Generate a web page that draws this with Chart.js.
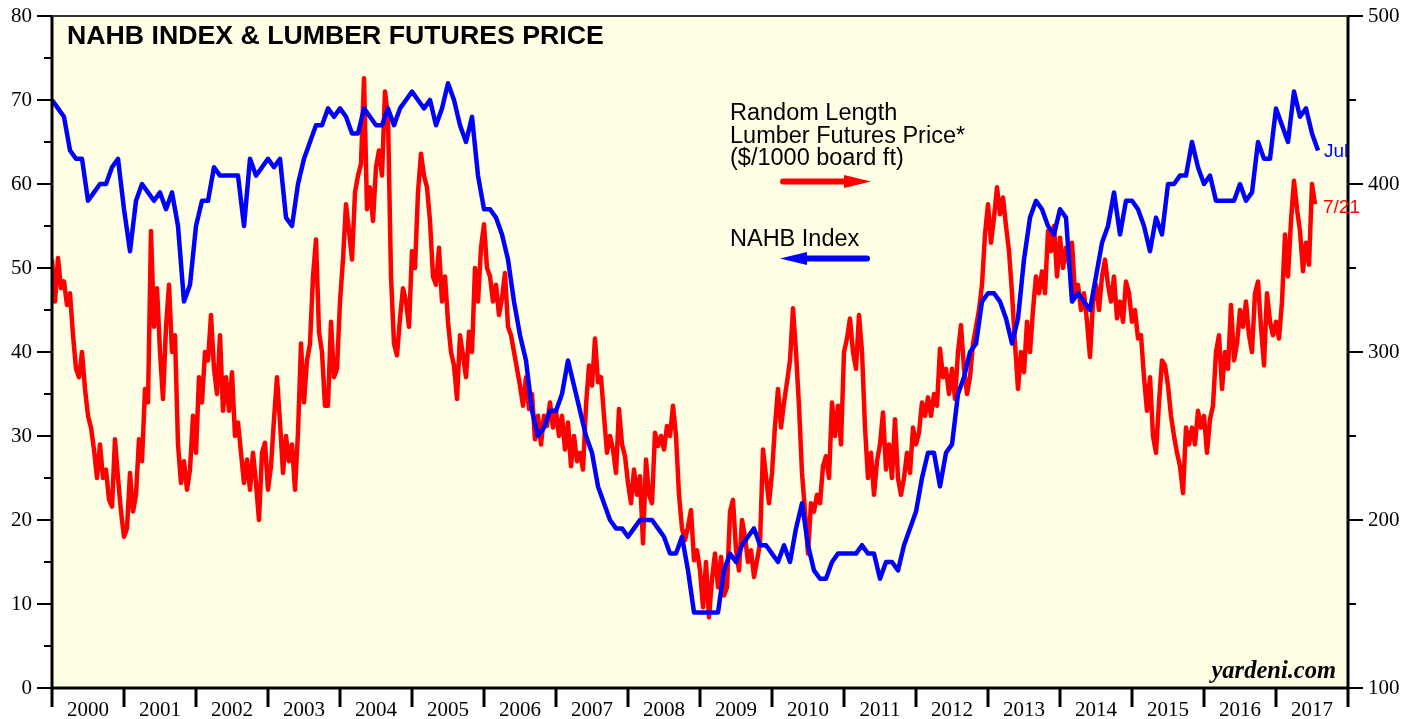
<!DOCTYPE html>
<html><head><meta charset="utf-8">
<script src="https://cdn.jsdelivr.net/npm/chart.js@4.4.1/dist/chart.umd.min.js"></script>
<style>html,body{margin:0;padding:0;background:#fff;}#wrap{width:1420px;height:719px;position:relative;}</style>
</head><body><div id="wrap"><canvas id="c" width="1420" height="719"></canvas></div>
<script>
// ---- data ----
const startYear = 2000;
const endYear = 2018;
const yearLabels = ['2000','2001','2002','2003','2004','2005','2006','2007','2008','2009','2010','2011','2012','2013','2014','2015','2016','2017'];
const leftTicks = [0,10,20,30,40,50,60,70,80];
const rightTicks = [100,200,300,400,500];

// NAHB Housing Market Index, monthly (month-end points), Dec 1999 .. Jul 2017
const nahbIndex = [70,
 69,68,64,63,63,58,59,60,60,62,63,57,
 52,58,60,59,58,59,57,59,55,46,48,55,
 58,58,62,61,61,61,61,55,63,61,62,63,
 62,63,56,55,60,63,65,67,67,69,68,69,
 68,66,66,69,68,67,67,69,67,69,70,71,
 70,69,70,67,69,72,70,67,65,68,61,57,
 57,56,54,51,46,42,39,33,30,31,33,33,
 35,39,36,33,30,28,24,22,20,19,19,18,
 19,20,20,20,19,18,16,16,18,14,9,9,
 9,9,9,14,16,15,17,18,19,17,17,16,
 15,17,15,19,22,17,14,13,13,15,16,16,
 16,16,17,16,16,13,15,15,14,17,19,21,
 25,28,28,24,28,29,35,37,40,41,46,47,
 47,46,44,41,44,51,56,58,57,55,54,57,
 56,46,47,46,45,49,53,55,59,54,58,58,
 57,55,52,56,54,60,60,61,61,65,62,60,
 61,58,58,58,58,60,58,59,65,63,63,69,
 67,65,71,68,69,66,64];

// Random Length lumber futures price, $/1000 board ft, semi-monthly from Jan 2000 to 7/21/2017
const lumberPrice = [
 355,330,356,338,342,328,335,310,290,285,300,278,262,255,242,225,245,225,230,212,208,248,225,205,
 190,195,228,205,215,248,235,278,270,372,315,338,300,272,315,340,300,310,245,222,235,218,230,262,
 240,285,270,300,295,322,290,275,310,265,285,265,288,250,258,240,222,236,218,240,222,200,240,246,
 218,232,260,285,258,228,250,235,245,218,252,305,270,295,305,345,367,312,300,268,268,318,285,290,
 330,355,388,372,355,395,405,412,463,385,398,378,410,420,405,455,440,345,305,298,320,338,330,315,
 360,350,395,418,405,398,378,345,340,362,330,345,318,300,292,272,310,298,285,312,300,350,330,362,
 376,350,345,330,340,322,332,347,315,310,300,290,280,268,285,266,275,248,262,245,262,256,270,255,
 265,250,262,242,258,232,250,235,240,230,268,292,280,308,282,285,262,240,250,242,228,266,245,238,
 222,210,230,215,226,186,236,215,210,252,244,250,242,256,250,268,250,215,195,188,196,206,176,182,
 170,148,175,142,165,180,160,178,155,160,205,212,182,170,200,190,175,182,166,176,186,242,226,210,
 228,256,278,255,270,282,295,326,300,268,228,205,180,210,205,215,210,232,238,225,270,250,268,245,
 300,308,320,300,290,322,300,255,225,240,215,235,245,264,230,245,225,260,225,215,225,240,228,255,
 245,252,270,262,273,262,275,268,302,285,290,275,290,272,300,316,290,275,285,305,315,325,340,370,
 388,365,380,398,382,392,375,360,335,305,278,300,288,318,300,325,345,335,348,335,372,360,375,345,
 368,350,362,352,365,335,340,325,335,318,297,330,340,325,345,355,340,330,345,320,330,318,342,335,
 318,325,308,310,285,265,285,250,240,270,295,292,280,262,250,240,232,216,255,245,255,245,265,255,
 262,240,260,268,300,310,278,300,290,328,295,305,325,315,330,310,300,335,342,315,292,335,318,310,
 318,308,330,370,345,378,402,385,372,348,365,352,400,388];

const nahbPoints = nahbIndex.map((v, i) => ({x: startYear + i / 12, y: v}));
const lumberPoints = lumberPrice.map((v, i) => ({x: startYear + i / 24, y: v}));

const serif = "'Liberation Serif', 'Times New Roman', serif";
const sans = "'Liberation Sans', Arial, Helvetica, sans-serif";

const decor = {
  id: 'decor',
  beforeDraw(chart) {
    const {ctx, chartArea: a} = chart;
    ctx.save();
    ctx.fillStyle = '#FFFFE6';
    ctx.fillRect(a.left, a.top, a.right - a.left, a.bottom - a.top);
    ctx.restore();
  },
  afterDraw(chart) {
    const {ctx, chartArea: a, scales} = chart;
    const L = a.left, R = a.right, T = a.top, B = a.bottom;
    ctx.save();
    ctx.strokeStyle = '#000';
    ctx.lineWidth = 2;
    for (let v = 0; v <= 80; v += 5) {
      const y = Math.round(scales.y.getPixelForValue(v));
      const len = v % 10 === 0 ? 15 : 8;
      ctx.beginPath(); ctx.moveTo(L, y); ctx.lineTo(L - len, y); ctx.stroke();
    }
    for (let v = 100; v <= 500; v += 50) {
      const y = Math.round(scales.y2.getPixelForValue(v));
      const len = v % 100 === 0 ? 15 : 8;
      ctx.beginPath(); ctx.moveTo(R, y); ctx.lineTo(R + len, y); ctx.stroke();
    }
    ctx.lineWidth = 3;
    for (let yr = startYear; yr <= endYear; yr++) {
      const x = Math.round(scales.x.getPixelForValue(yr));
      ctx.beginPath(); ctx.moveTo(x, B); ctx.lineTo(x, B + 19); ctx.stroke();
    }
    ctx.lineWidth = 3;
    ctx.beginPath();
    ctx.moveTo(L, T); ctx.lineTo(L, B); ctx.lineTo(R, B); ctx.lineTo(R, T);
    ctx.stroke();
    ctx.lineWidth = 2; ctx.strokeStyle = '#333';
    ctx.beginPath(); ctx.moveTo(L, T); ctx.lineTo(R, T); ctx.stroke();

    ctx.fillStyle = '#000';
    ctx.textBaseline = 'alphabetic';
    ctx.textAlign = 'left';
    ctx.font = "bold 26.7px " + sans;
    ctx.fillText('NAHB INDEX & LUMBER FUTURES PRICE', 67, 44);
    ctx.font = "23.5px " + sans;
    ctx.fillText('Random Length', 730, 120);
    ctx.fillText('Lumber Futures Price*', 730, 143);
    ctx.fillText('($/1000 board ft)', 730, 165);
    ctx.fillText('NAHB Index', 730, 246);
    ctx.fillStyle = '#FF0000'; ctx.strokeStyle = '#FF0000';
    ctx.lineWidth = 6; ctx.lineCap = 'round';
    ctx.beginPath(); ctx.moveTo(783, 181.5); ctx.lineTo(848, 181.5); ctx.stroke();
    ctx.beginPath(); ctx.moveTo(844, 175); ctx.lineTo(871, 181.5); ctx.lineTo(844, 188); ctx.closePath(); ctx.fill();
    ctx.fillStyle = '#0000FF'; ctx.strokeStyle = '#0000FF';
    ctx.beginPath(); ctx.moveTo(805, 258.5); ctx.lineTo(867, 258.5); ctx.stroke();
    ctx.beginPath(); ctx.moveTo(807, 252); ctx.lineTo(780, 258.5); ctx.lineTo(807, 265); ctx.closePath(); ctx.fill();
    ctx.font = "19px " + sans;
    ctx.fillStyle = '#0000FF';
    ctx.fillText('Jul', 1324, 157);
    ctx.fillStyle = '#FF0000';
    ctx.fillText('7/21', 1323, 213);
    ctx.fillStyle = '#000';
    ctx.textAlign = 'right';
    ctx.font = "italic bold 24.5px " + serif;
    ctx.fillText('yardeni.com', 1336, 678);
    ctx.restore();
  }
};

new Chart(document.getElementById('c'), {
  type: 'line',
  data: {
    datasets: [
      {label: 'NAHB Index', data: nahbPoints, yAxisID: 'y', borderColor: '#0000FF', borderWidth: 4.5,
       pointRadius: 0, tension: 0, borderJoinStyle: 'round', order: 0},
      {label: 'Lumber Futures Price', data: lumberPoints, yAxisID: 'y2', borderColor: '#FF0000', borderWidth: 4.5,
       pointRadius: 0, tension: 0, borderJoinStyle: 'round', order: 1}
    ]
  },
  options: {
    responsive: false,
    animation: false,
    devicePixelRatio: 1,
    layout: {padding: {top: 16, left: 0, right: 0, bottom: 0}},
    plugins: {legend: {display: false}, tooltip: {enabled: false}},
    scales: {
      x: {
        type: 'linear', min: startYear, max: endYear,
        grid: {display: false, drawTicks: false},
        border: {display: false},
        afterBuildTicks: s => { s.ticks = yearLabels.map(y => ({value: Number(y) + 0.5})); },
        afterFit: s => { s.height = 31; s.paddingLeft = 0; s.paddingRight = 0; },
        ticks: {autoSkip: false, maxRotation: 0, padding: 10, color: '#000',
          font: {family: serif, size: 21},
          callback: v => yearLabels[Math.floor(v) - startYear]}
      },
      y: {
        position: 'left', min: 0, max: 80,
        grid: {display: false, drawTicks: false},
        border: {display: false},
        afterBuildTicks: s => { s.ticks = leftTicks.map(v => ({value: v})); },
        afterFit: s => { s.width = 52; s.paddingTop = 0; s.paddingBottom = 0; },
        ticks: {padding: 20, color: '#000', font: {family: serif, size: 21}}
      },
      y2: {
        position: 'right', min: 100, max: 500,
        grid: {display: false, drawTicks: false},
        border: {display: false},
        afterBuildTicks: s => { s.ticks = rightTicks.map(v => ({value: v})); },
        afterFit: s => { s.width = 72; s.paddingTop = 0; s.paddingBottom = 0; },
        ticks: {padding: 20, color: '#000', font: {family: serif, size: 21}}
      }
    }
  },
  plugins: [decor]
});
</script></body></html>
